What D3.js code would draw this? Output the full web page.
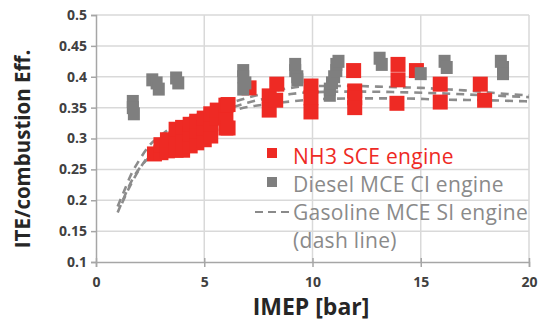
<!DOCTYPE html>
<html><head><meta charset="utf-8">
<script src="https://cdn.jsdelivr.net/npm/d3@7"></script>
<style>body{margin:0;background:#fff}svg{display:block}</style>
</head><body><svg id="c" width="538" height="321"></svg>
<script>
// IMEP [bar] and ITE for NH3 SCE engine
const nh3X = [2.7,3.0,3.0,3.3,3.3,3.7,3.7,3.7,4.0,4.0,4.0,4.35,4.35,4.35,4.65,4.65,4.65,5.0,5.0,5.0,5.3,5.3,5.3,5.6,5.6,6.0,6.0,6.0,6.1,6.1,
  7.07,8.0,8.0,8.35,8.3,9.93,9.93,9.93,11.9,11.95,11.95,11.95,13.95,13.95,13.9,14.8,15.9,15.9,17.75,17.95];
const nh3Y = [0.275,0.277,0.29,0.28,0.298,0.281,0.30,0.315,0.281,0.30,0.318,0.288,0.307,0.323,0.293,0.312,0.328,0.298,0.317,0.333,0.304,0.324,0.34,0.333,0.346,0.317,0.336,0.354,0.317,0.355,
  0.382,0.369,0.346,0.388,0.362,0.385,0.366,0.343,0.41,0.377,0.366,0.35,0.42,0.395,0.357,0.41,0.388,0.359,0.388,0.362];
// Diesel MCE CI engine
const dieselX = [1.7,1.7,1.75,2.6,2.8,2.9,3.7,3.8,6.8,6.8,6.9,6.8,9.2,9.2,9.3,9.3,10.8,10.8,10.9,11.0,11.1,11.1,11.2,13.1,13.2,15.0,16.1,16.2,18.7,18.8,18.8];
const dieselY = [0.36,0.35,0.34,0.395,0.39,0.38,0.398,0.39,0.41,0.40,0.39,0.38,0.42,0.41,0.40,0.395,0.37,0.38,0.39,0.40,0.41,0.42,0.425,0.43,0.42,0.405,0.425,0.415,0.425,0.415,0.405];
// Gasoline MCE SI engine (dash lines)
const gasAX = [1.0,1.3,1.6,2,2.5,3,3.5,4,5,6,7,8,9,10,11,12,13,14,15,16,17,18,19,20];
const gasAY = [0.19,0.215,0.24,0.265,0.29,0.305,0.318,0.328,0.343,0.355,0.366,0.375,0.382,0.385,0.385,0.385,0.384,0.383,0.382,0.38,0.378,0.375,0.372,0.37];
const gasBX = [1.2,1.5,2,2.5,3,4,5,6,7,8,9,10,12,14,16,18,20];
const gasBY = [0.195,0.218,0.25,0.275,0.292,0.315,0.332,0.347,0.358,0.366,0.372,0.375,0.376,0.375,0.373,0.37,0.367];
const gasCX = [1.0,1.3,1.7,2.2,2.8,3.5,4.5,5.5,6.5,8,9,10,12,14,16,18,20];
const gasCY = [0.18,0.205,0.235,0.26,0.28,0.3,0.32,0.335,0.347,0.356,0.36,0.363,0.365,0.365,0.363,0.362,0.36];
const xTicks = [0,5,10,15,20];
const yTicks = [0.1,0.15,0.2,0.25,0.3,0.35,0.4,0.45,0.5];
const legendLabels = ["NH3 SCE engine","Diesel MCE CI engine","Gasoline MCE SI engine","(dash line)"];

const svg = d3.select("#c");
const x = d3.scaleLinear().domain([0,20]).range([96,529]);
const y = d3.scaleLinear().domain([0.1,0.5]).range([262,15]);
const RED = "#ee2a24", GREY = "#7f7f7f";

// grid
svg.append("g").selectAll("line").data(yTicks.slice(1)).join("line")
  .attr("x1",x(0)).attr("x2",x(20)).attr("y1",d=>y(d)).attr("y2",d=>y(d))
  .attr("stroke","#d9d9d9").attr("stroke-width",1.5);
svg.append("g").selectAll("line").data(xTicks.slice(1)).join("line")
  .attr("y1",y(0.1)).attr("y2",y(0.5)).attr("x1",d=>x(d)).attr("x2",d=>x(d))
  .attr("stroke","#d9d9d9").attr("stroke-width",1.5);

// axes
const fontTick = "'Open Sans', 'Liberation Sans', sans-serif";
const yAxis = svg.append("g").attr("transform",`translate(${x(0)},0)`)
  .call(d3.axisLeft(y).tickValues(yTicks).tickFormat(d=>String(+d.toFixed(2))).tickSize(5).tickPadding(4));
const xAxis = svg.append("g").attr("transform",`translate(0,${y(0.1)})`)
  .call(d3.axisBottom(x).tickValues(xTicks).tickSize(5).tickPadding(10));
[xAxis,yAxis].forEach(g=>{
  g.select(".domain").attr("stroke","#a6a6a6").attr("stroke-width",1.5);
  g.selectAll(".tick line").attr("stroke","#a6a6a6").attr("stroke-width",1.5);
  g.selectAll("text").attr("font-family",fontTick).attr("font-weight","bold").attr("font-size",14).attr("fill","#404040");
});
xAxis.selectAll(".tick line").attr("y1",-4);
yAxis.selectAll(".tick line").attr("x2",-5);

// dashed curves
const line = d3.line().x(d=>x(d[0])).y(d=>y(d[1])).curve(d3.curveMonotoneX);
[[gasAX,gasAY],[gasBX,gasBY],[gasCX,gasCY]].forEach(([gx,gy])=>{
  svg.append("path").datum(gx.map((v,i)=>[v,gy[i]])).attr("d",line)
    .attr("fill","none").attr("stroke","#8c8c8c").attr("stroke-width",2.6)
    .attr("stroke-dasharray","8,6");
});

// markers
svg.append("g").selectAll("rect").data(nh3X.map((v,i)=>[v,nh3Y[i]])).join("rect")
  .attr("x",d=>x(d[0])-7.5).attr("y",d=>y(d[1])-7.5).attr("width",15).attr("height",15).attr("fill",RED);
svg.append("g").selectAll("rect").data(dieselX.map((v,i)=>[v,dieselY[i]])).join("rect")
  .attr("x",d=>x(d[0])-6).attr("y",d=>y(d[1])-6.5).attr("width",12).attr("height",13).attr("fill",GREY);

// legend
const lf = "'Open Sans', 'Liberation Sans', sans-serif";
const lg = svg.append("g");
lg.append("rect").attr("x",267).attr("y",148).attr("width",10).attr("height",10).attr("fill",RED);
lg.append("rect").attr("x",267).attr("y",177).attr("width",10).attr("height",10).attr("fill",GREY);
lg.append("line").attr("x1",255).attr("x2",289).attr("y1",212).attr("y2",212)
  .attr("stroke","#8a8a8a").attr("stroke-width",2).attr("stroke-dasharray","8,5");
const lcol = [RED,"#8a8a8a","#8a8a8a","#8a8a8a"];
const lys = [164,192,220,248];
lg.selectAll("text").data(legendLabels).join("text")
  .attr("x",293).attr("y",(d,i)=>lys[i]).attr("fill",(d,i)=>lcol[i])
  .attr("font-family",lf).attr("font-size",21).attr("letter-spacing",0.3).text(d=>d);

// titles
svg.append("text").attr("x",311).attr("y",315).attr("text-anchor","middle")
  .attr("font-family",fontTick).attr("font-weight","bold").attr("font-size",23).attr("fill","#262626").text("IMEP [bar]");
svg.append("text").attr("transform","translate(30,149) rotate(-90)").attr("text-anchor","middle")
  .attr("font-family",fontTick).attr("font-weight","bold").attr("font-size",20.5).attr("fill","#262626").text("ITE/combustion Eff.");
</script></body></html>
